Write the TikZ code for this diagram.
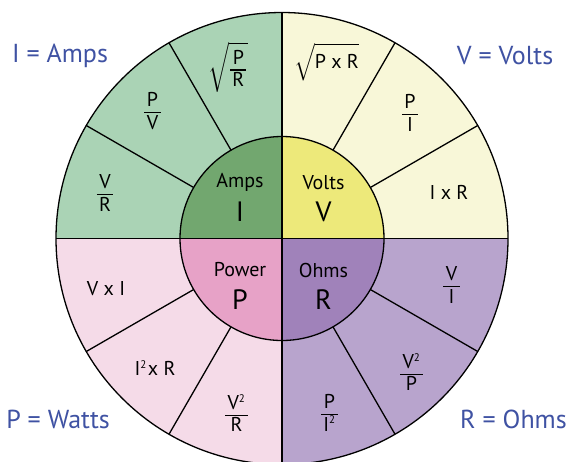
\documentclass[tikz,border=0pt]{standalone}
\usepackage{amsmath}
\usepackage{fontspec}
\setmainfont{PT Sans}
\usetikzlibrary{calc}
\definecolor{ampo}{RGB}{170,211,181}
\definecolor{ampi}{RGB}{114,167,111}
\definecolor{volo}{RGB}{248,247,216}
\definecolor{voli}{RGB}{237,233,122}
\definecolor{powo}{RGB}{245,219,232}
\definecolor{powi}{RGB}{231,162,199}
\definecolor{ohmo}{RGB}{184,164,205}
\definecolor{ohmi}{RGB}{160,130,186}
\definecolor{lblue}{RGB}{63,82,163}
\newcommand{\frbody}[2]{\genfrac{}{}{1.3pt}{0}{\mbox{\kern2.5pt\raisebox{-3pt}[\height][0pt]{#1}\kern2.5pt}}{\mbox{\raisebox{3pt}[\height][\depth]{#2}}}}
\newcommand{\fr}[2]{$\frbody{#1}{#2}$}
\newcommand{\sqr}{\textsuperscript{\fontsize{11}{12}\selectfont 2}}
\tikzset{
  ring/.style={line width=1.3pt, draw=black},
  formula/.style={font=\fontsize{20}{23}\selectfont, inner sep=0pt},
  word/.style={font=\fontsize{20}{23}\selectfont, inner sep=0pt},
  letter/.style={font=\fontsize{28}{31}\selectfont, inner sep=0pt},
  corner/.style={font=\fontsize{26}{29}\selectfont, text=lblue, inner sep=0pt},
}
\begin{document}
\begin{tikzpicture}[x=1pt,y=-1pt]
\useasboundingbox (0,0) rectangle (569,461);
\coordinate (C) at (282,238.5);
% quadrants
\begin{scope}
  \clip (C) rectangle ++(-300,-300);
  \fill[ampo] (C) circle[radius=226pt];
  \fill[ampi] (C) circle[radius=102pt];
\end{scope}
\begin{scope}
  \clip (C) rectangle ++(300,-300);
  \fill[volo] (C) circle[radius=226pt];
  \fill[voli] (C) circle[radius=102pt];
\end{scope}
\begin{scope}
  \clip (C) rectangle ++(-300,300);
  \fill[powo] (C) circle[radius=226pt];
  \fill[powi] (C) circle[radius=102pt];
\end{scope}
\begin{scope}
  \clip (C) rectangle ++(300,300);
  \fill[ohmo] (C) circle[radius=226pt];
  \fill[ohmi] (C) circle[radius=102pt];
\end{scope}
% outlines
\draw[ring] (C) circle[radius=226pt];
\draw[ring] (C) circle[radius=102pt];
\draw[ring] ($(C)+(180:226pt)$) -- ($(C)+(0:226pt)$);
\draw[ring] ($(C)+(90:226pt)$) -- ($(C)+(270:226pt)$);
\foreach \a in {30,60,120,150,210,240,300,330}
  \draw[ring] ($(C)+(\a:102pt)$) -- ($(C)+(\a:226pt)$);
% inner labels
\node[word]   (amps)  at (240,182.5) {Amps};
\node[letter] (ampsL) at (240,212) {I};
\node[word]   (volts) at (323.5,182.5) {Volts};
\node[letter] (voltsL) at (323.5,212) {V};
\node[word]   (power) at (240,270) {Power};
\node[letter] (powerL) at (240,300) {P};
\node[word]   (ohms)  at (323.5,270) {Ohms};
\node[letter] (ohmsL) at (323.5,300) {R};
% amps formulas
\node[formula] (a1) at (105,193) {\fr{V}{R}};
\node[formula] (a2) at (152.5,111) {\fr{P}{V}};
\node[formula] (a3) at (228,67) {$\sqrt{\frbody{P}{R}}$};
% volts formulas
\node[formula] (v1) at (326.5,62) {$\sqrt{\vphantom{\big(}\mbox{P x R}}$};
\node[formula] (v2) at (410,113) {\fr{P}{I}};
\node[formula] (v3) at (449,192) {I x R};
% power formulas
\node[formula] (p1) at (106,289) {V x I};
\node[formula] (p2) at (155,368) {I\sqr\kern1pt x R};
\node[formula] (p3) at (236.5,413) {\fr{V\sqr}{R}};
% ohms formulas
\node[formula] (o1) at (451.5,285) {\fr{V}{I}};
\node[formula] (o2) at (411.5,372) {\fr{V\sqr}{P}};
\node[formula] (o3) at (329.5,413) {\fr{P}{I\sqr}};
% corner labels
\node[corner] (ca) at (60,55.5) {I = Amps};
\node[corner] (cv) at (505,55.5) {V = Volts};
\node[corner] (cp) at (58,419) {P = Watts};
\node[corner] (cr) at (513.5,419) {R = Ohms};
\end{tikzpicture}
\end{document}
